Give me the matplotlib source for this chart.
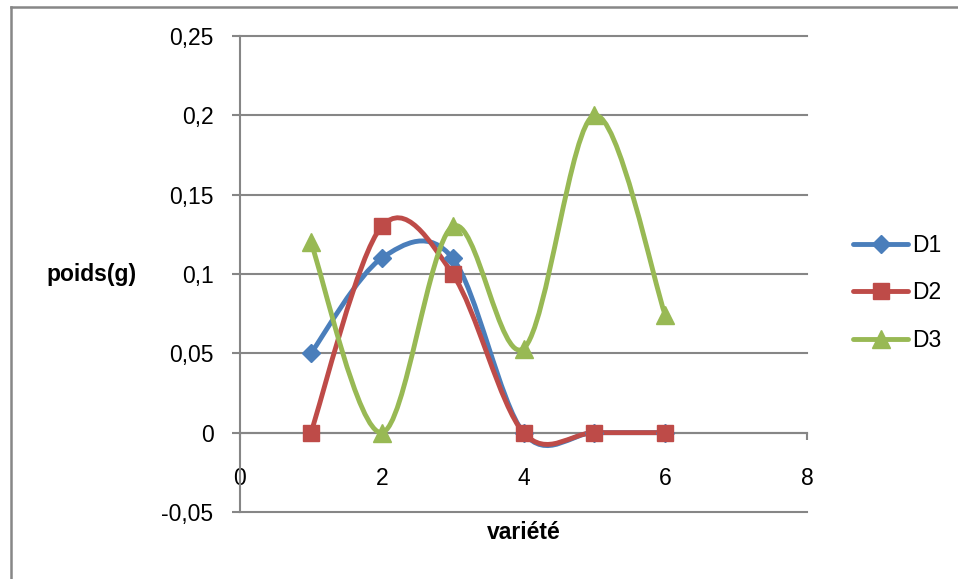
import numpy as np
import matplotlib
matplotlib.use("Agg")
import matplotlib.pyplot as plt
from matplotlib.lines import Line2D
from matplotlib.path import Path
from matplotlib.patches import PathPatch

# ---------------------------------------------------------------- données
variete = [1, 2, 3, 4, 5, 6]
d1 = [0.05, 0.11, 0.11, 0.0, 0.0, 0.0]
d2 = [0.0, 0.13, 0.10, 0.0, 0.0, 0.0]
d3 = [0.12, 0.0, 0.13, 0.053, 0.20, 0.074]
series = ["D1", "D2", "D3"]
colors = ["#4A7EBB", "#BE4B48", "#98B954"]
markers = ["D", "s", "^"]
msizes = [9, 12, 12.5]

yticks = [-0.05, 0, 0.05, 0.1, 0.15, 0.2, 0.25]
ylabels = ["-0,05", "0", "0,05", "0,1", "0,15", "0,2", "0,25"]
xticks = [0, 2, 4, 6, 8]

plt.rcParams["font.family"] = ["Liberation Sans", "DejaVu Sans"]
GRIS = "#868686"


def smooth_path(x, y):
    """Courbe lissée façon Excel (Bézier, tension 1/6)."""
    p = np.column_stack([x, y]).astype(float)
    n = len(p)
    verts, codes = [p[0]], [Path.MOVETO]
    for i in range(n - 1):
        p0 = p[max(i - 1, 0)]
        p3 = p[min(i + 2, n - 1)]
        c1 = p[i] + (p[i + 1] - p0) / 6
        c2 = p[i + 1] - (p3 - p[i]) / 6
        verts += [c1, c2, p[i + 1]]
        codes += [Path.CURVE4] * 3
    return Path(verts, codes)


fig = plt.figure(figsize=(9.58, 5.79), dpi=100)
ax = fig.add_axes([240 / 958, 1 - 512 / 579, 567 / 958, 476 / 579])

for ys, name, c, m, ms in zip([d1, d2, d3], series, colors, markers, msizes):
    ax.add_patch(PathPatch(smooth_path(variete, ys), fill=False, edgecolor=c,
                           lw=3.5, capstyle="round", joinstyle="round", zorder=3))
    ax.plot(variete, ys, ls="none", marker=m, ms=ms, color=c, zorder=4)

ax.set_xlim(0, 8)
ax.set_ylim(-0.05, 0.25)

for yv in yticks:
    ax.axhline(yv, color=GRIS, lw=1.5, clip_on=False, zorder=1)

for s in ["top", "right"]:
    ax.spines[s].set_visible(False)
ax.spines["bottom"].set_position(("data", 0))
ax.spines["bottom"].set_color(GRIS)
ax.spines["left"].set_color(GRIS)
ax.spines["bottom"].set_linewidth(1.5)
ax.spines["left"].set_linewidth(1.5)
ax.spines["bottom"].set_zorder(1)

ax.set_yticks(yticks, ylabels)
ax.set_xticks(xticks, [str(v) for v in xticks])
ax.tick_params(axis="y", direction="out", length=6, width=1.5, color=GRIS,
               pad=13, labelsize=16.5)
ax.tick_params(axis="x", direction="out", length=5, width=1.5, color=GRIS,
               pad=20, labelsize=16.5)

ax.set_ylabel("poids(g)", rotation=0, fontsize=16.5, fontweight="bold",
              ha="center", va="center")
ax.yaxis.set_label_coords(-0.261, 0.5)
ax.set_xlabel("variété", fontsize=16.5, fontweight="bold", va="center")
ax.xaxis.set_label_coords(0.5, -0.044)

handles = [Line2D([], [], color=c, lw=3.5, marker=m, ms=ms, solid_capstyle="round")
           for c, m, ms in zip(colors, markers, msizes)]
fig.legend(handles, series, loc="center left", bbox_to_anchor=(853 / 958, 1 - 293 / 579),
           bbox_transform=fig.transFigure, frameon=False, fontsize=16.5,
           handlelength=2.4, handletextpad=0.2, labelspacing=1.05,
           borderpad=0, borderaxespad=0)

# cadre extérieur du graphique
fig.add_artist(Line2D([10.5 / 958, 1], [1 - 6.5 / 579, 1 - 6.5 / 579],
                      transform=fig.transFigure, color="#878787", lw=1.8))
fig.add_artist(Line2D([10.5 / 958, 10.5 / 958], [0, 1 - 6.5 / 579],
                      transform=fig.transFigure, color="#878787", lw=1.8))

fig.savefig("out.png", dpi=100)
